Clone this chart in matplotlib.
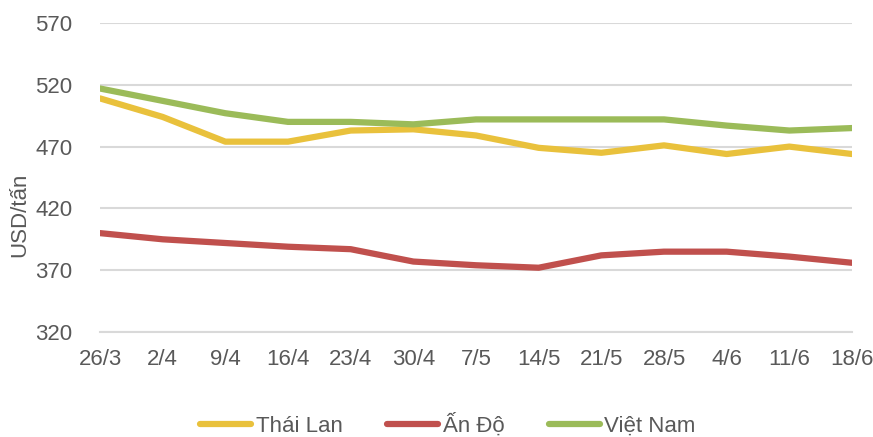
import matplotlib.pyplot as plt

plt.rcParams['font.family'] = ['Liberation Sans', 'DejaVu Sans']

weeks = ['26/3', '2/4', '9/4', '16/4', '23/4', '30/4', '7/5', '14/5',
         '21/5', '28/5', '4/6', '11/6', '18/6']
thai_lan = [509, 494, 474, 474, 483, 484, 479, 469, 465, 471, 464, 470, 464]
an_do = [400, 395, 392, 389, 387, 377, 374, 372, 382, 385, 385, 381, 376]
viet_nam = [517, 507, 497, 490, 490, 488, 492, 492, 492, 492, 487, 483, 485]

fig = plt.figure(figsize=(8.73, 4.37), dpi=100)
ax = fig.add_axes([100 / 873, 1 - 332 / 437, 752 / 873, 309 / 437])

x = range(len(weeks))
ax.plot(x, thai_lan, color='#e9c13c', lw=4.5, solid_capstyle='round',
        solid_joinstyle='round', label='Thái Lan')
ax.plot(x, an_do, color='#c0504d', lw=4.5, solid_capstyle='round',
        solid_joinstyle='round', label='Ấn Độ')
ax.plot(x, viet_nam, color='#9bbb59', lw=4.5, solid_capstyle='round',
        solid_joinstyle='round', label='Việt Nam')

ax.set_xlim(0, len(weeks) - 1)
ax.set_ylim(320, 570)
ax.set_yticks(range(320, 571, 50))
ax.set_xticks(list(x))
ax.set_xticklabels(weeks)

ax.grid(axis='y', color='#d9d9d9', lw=1.5)
ax.set_axisbelow(True)
for s in ['top', 'right', 'left']:
    ax.spines[s].set_visible(False)
ax.spines['bottom'].set_color('#d9d9d9')
ax.spines['bottom'].set_linewidth(1.5)
ax.tick_params(axis='both', length=0, labelsize=16, colors='#595959')
ax.tick_params(axis='y', pad=20)
ax.tick_params(axis='x', pad=12)

ax.set_ylabel('USD/tấn', fontsize=16, color='#595959')
ax.yaxis.set_label_coords(-70 / 752, 0.38)

fig.legend(loc='center', bbox_to_anchor=(0.513, 1 - 425 / 437),
           ncol=3, frameon=False, fontsize=16, handlelength=2.3,
           handletextpad=0.2, columnspacing=2.0, labelcolor='#595959')

fig.savefig('out.png', dpi=100)
